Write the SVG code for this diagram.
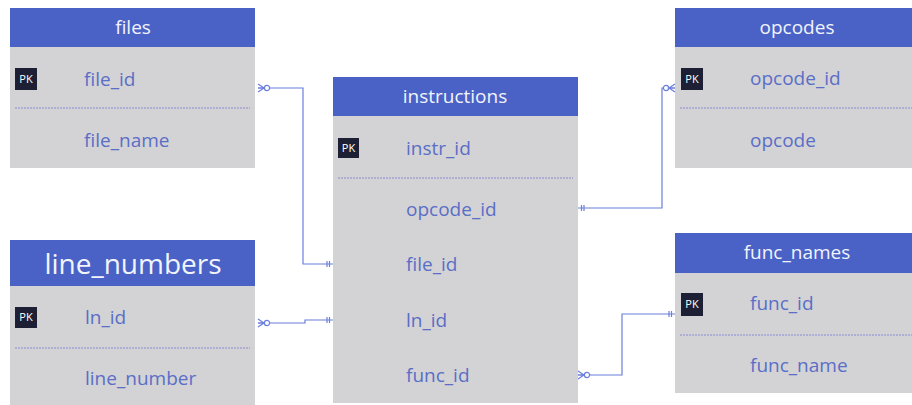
<svg xmlns="http://www.w3.org/2000/svg" width="912" height="405" viewBox="0 0 912 405">
<style>
.hd{fill:#4a62c6}
.bd{fill:#d3d3d6}
.ht{fill:#f2f4fb;font-family:"Open Sans","Noto Sans",sans-serif;font-size:19px;text-anchor:middle}
.ft{fill:#5a6ec6;font-family:"Open Sans","Noto Sans",sans-serif;font-size:19px}
.pk{fill:#1d2034}
.pkt{fill:#ffffff;font-family:"Open Sans","Noto Sans",sans-serif;font-size:11px;text-anchor:middle}
.dv{stroke:#8a88d0;stroke-width:1;stroke-dasharray:2 1}
.cn{fill:none;stroke:#6b7fdc;stroke-width:1.2}
</style>
<defs>
<marker id="zm" markerUnits="userSpaceOnUse" markerWidth="16" markerHeight="12" refX="15" refY="6" orient="auto-start-reverse" overflow="visible">
<path d="M15,2 L9,6 L15,10 M15,6 L9,6" fill="none" stroke="#6b7fdc" stroke-width="1.2"/>
<circle cx="6" cy="6" r="2.6" fill="#ffffff" stroke="#6b7fdc" stroke-width="1.2"/>
</marker>
<marker id="oo" markerUnits="userSpaceOnUse" markerWidth="16" markerHeight="12" refX="15" refY="6" orient="auto-start-reverse" overflow="visible">
<path d="M9,3 V9 M11.5,3 V9" fill="none" stroke="#6b7fdc" stroke-width="1.2"/>
</marker>
</defs>
<rect width="912" height="405" fill="#ffffff"/>

<g id="connectors">
<path class="cn" d="M258,88 H303 V264 H333" marker-start="url(#zm)" marker-end="url(#oo)"/>
<path class="cn" d="M258,323 H305 V320 H333" marker-start="url(#zm)" marker-end="url(#oo)"/>
<path class="cn" d="M578,208 H662 V88 H675" marker-start="url(#oo)" marker-end="url(#zm)"/>
<path class="cn" d="M578,375 H622 V314 H675" marker-start="url(#zm)" marker-end="url(#oo)"/>
</g>

<g id="files">
<rect class="bd" x="10" y="47" width="245" height="121"/>
<rect class="hd" x="10" y="8" width="245" height="39"/>
<text class="ht" x="133" y="34">files</text>
<rect class="pk" x="15" y="68" width="22" height="22"/>
<text class="pkt" x="26" y="83">PK</text>
<text class="ft" x="84" y="86">file_id</text>
<line class="dv" x1="15" y1="108" x2="250" y2="108"/>
<text class="ft" x="84" y="147">file_name</text>
</g>

<g id="line_numbers">
<rect class="bd" x="10" y="286" width="245" height="119"/>
<rect class="hd" x="10" y="240" width="245" height="46"/>
<text class="ht" x="133" y="274" style="font-size:28px">line_numbers</text>
<rect class="pk" x="15" y="307" width="22" height="21"/>
<text class="pkt" x="26" y="321">PK</text>
<text class="ft" x="85" y="324">ln_id</text>
<line class="dv" x1="15" y1="348" x2="250" y2="348"/>
<text class="ft" x="85" y="385">line_number</text>
</g>

<g id="instructions">
<rect class="bd" x="333" y="116" width="245" height="287"/>
<rect class="hd" x="333" y="77" width="245" height="39"/>
<text class="ht" x="455" y="103">instructions</text>
<rect class="pk" x="338" y="138" width="21" height="20"/>
<text class="pkt" x="348.5" y="152">PK</text>
<text class="ft" x="406" y="155">instr_id</text>
<line class="dv" x1="338" y1="178" x2="573" y2="178"/>
<text class="ft" x="406" y="216">opcode_id</text>
<text class="ft" x="406" y="271">file_id</text>
<text class="ft" x="406" y="327">ln_id</text>
<text class="ft" x="406" y="382">func_id</text>
</g>

<g id="opcodes">
<rect class="bd" x="675" y="47" width="245" height="121"/>
<rect class="hd" x="675" y="8" width="245" height="39"/>
<text class="ht" x="797" y="34">opcodes</text>
<rect class="pk" x="681" y="68" width="22" height="22"/>
<text class="pkt" x="692" y="83">PK</text>
<text class="ft" x="750" y="85">opcode_id</text>
<line class="dv" x1="680" y1="108" x2="912" y2="108"/>
<text class="ft" x="750" y="147">opcode</text>
</g>

<g id="func_names">
<rect class="bd" x="675" y="273" width="245" height="120"/>
<rect class="hd" x="675" y="233" width="245" height="40"/>
<text class="ht" x="797" y="259">func_names</text>
<rect class="pk" x="681" y="293" width="22" height="23"/>
<text class="pkt" x="692" y="308">PK</text>
<text class="ft" x="750" y="310">func_id</text>
<line class="dv" x1="680" y1="335" x2="912" y2="335"/>
<text class="ft" x="750" y="372">func_name</text>
</g>
</svg>
